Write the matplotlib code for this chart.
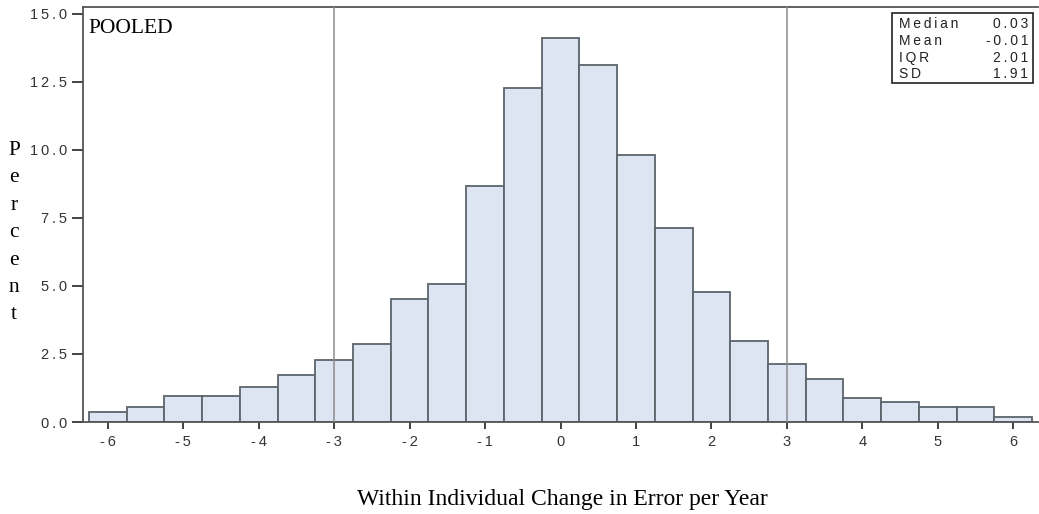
import matplotlib.pyplot as plt

# bin centres (width 0.5) and percent per bin
bin_centers = [-6.0, -5.5, -5.0, -4.5, -4.0, -3.5, -3.0, -2.5, -2.0, -1.5, -1.0, -0.5,
               0.0, 0.5, 1.0, 1.5, 2.0, 2.5, 3.0, 3.5, 4.0, 4.5, 5.0, 5.5, 6.0]
percents = [0.35, 0.55, 0.96, 0.96, 1.30, 1.73, 2.28, 2.88, 4.52, 5.07, 8.68, 12.28,
            14.10, 13.12, 9.82, 7.13, 4.78, 2.98, 2.13, 1.58, 0.88, 0.73, 0.55, 0.55, 0.18]
ref_lines = [-3, 3]
x_ticks = [-6, -5, -4, -3, -2, -1, 0, 1, 2, 3, 4, 5, 6]
y_ticks = [0.0, 2.5, 5.0, 7.5, 10.0, 12.5, 15.0]
stat_names = ['Median', 'Mean', 'IQR', 'SD']
stat_values = ['0.03', '-0.01', '2.01', '1.91']

W, H = 1039, 514
SANS = ['Liberation Sans', 'DejaVu Sans']
SERIF = ['Liberation Serif', 'DejaVu Serif']


def spaced(s, gap='\u2009'):
    # the original output uses wide letter spacing
    return gap.join(s)


fig = plt.figure(figsize=(W / 100, H / 100), dpi=100)
ax = fig.add_axes([83 / W, 1 - 422 / H, 955 / W, 415 / H])

ax.bar(bin_centers, percents, width=0.5, color='#dce5f1', edgecolor='#5c646c',
       linewidth=1.3, zorder=2)
for xv in ref_lines:
    ax.axvline(xv, color='#8c8c8c', linewidth=1.3, alpha=0.85, zorder=3)

ax.set_xlim(-6.33, 6.33)
ax.set_ylim(0, 15.25)
ax.set_xticks(x_ticks)
ax.set_xticklabels([spaced(str(t)) for t in x_ticks], family=SANS, fontsize=10.5,
                   color='#333333')
ax.set_yticks(y_ticks)
ax.set_yticklabels([spaced('%.1f' % t) for t in y_ticks], family=SANS, fontsize=10.5,
                   color='#333333')
ax.tick_params(axis='x', direction='out', length=5, width=1.3, color='#333333', pad=4.5)
ax.tick_params(axis='y', direction='out', length=8, width=1.3, color='#333333', pad=3.5)
for side in ['left', 'bottom', 'top']:
    ax.spines[side].set_color('#555555')
    ax.spines[side].set_linewidth(1.3)
ax.spines['right'].set_visible(False)

fig.text(88 / W, 1 - 33 / H, 'POOLED', ha='left', va='baseline', family=SERIF,
         fontsize=15.5)

# stats box in the top-right corner
bx0, bx1 = 892 / W, 1033 / W
by0, by1 = 1 - 83 / H, 1 - 13 / H
fig.patches.append(plt.Rectangle((bx0, by0), bx1 - bx0, by1 - by0, transform=fig.transFigure,
                                 fill=False, edgecolor='#222222', linewidth=1.2))
row_y = [24, 41, 58, 74]
for yy, name, val in zip(row_y, stat_names, stat_values):
    fig.text(899 / W, 1 - yy / H, spaced(name), ha='left', va='center',
             family=SANS, fontsize=10, color='#222222')
    fig.text(1028 / W, 1 - yy / H, spaced(val), ha='right', va='center',
             family=SANS, fontsize=10, color='#222222')

# y label as stacked letters
for i, ch in enumerate('Percent'):
    fig.text(14 / W, 1 - (155 + 27.4 * i) / H, ch, ha='center', va='baseline',
             family=SERIF, fontsize=15.5)

fig.text(562 / W, 1 - 499 / H, 'Within Individual Change in Error per Year',
         ha='center', va='center', family=SERIF, fontsize=17)

fig.savefig('out.png', dpi=100)
